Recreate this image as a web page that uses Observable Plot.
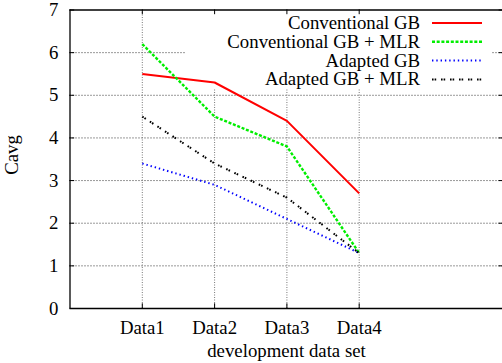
<!DOCTYPE html>
<html>
<head>
<meta charset="utf-8">
<script src="https://cdn.jsdelivr.net/npm/d3@7"></script>
<script src="https://cdn.jsdelivr.net/npm/@observablehq/plot@0.6"></script>
<style>
  html, body { margin: 0; padding: 0; background: white; overflow: hidden; }
</style>
</head>
<body>
<div id="chart"></div>
<script>
const categories = ["Data1", "Data2", "Data3", "Data4"];
const seriesNames = ["Conventional GB", "Conventional GB + MLR", "Adapted GB", "Adapted GB + MLR"];
const conventionalGB = [5.5, 5.3, 4.4, 2.7];
const conventionalGBMLR = [6.2, 4.5, 3.8, 1.3];
const adaptedGB = [3.4, 2.9, 2.1, 1.3];
const adaptedGBMLR = [4.5, 3.4, 2.6, 1.3];
const yTicks = [0, 1, 2, 3, 4, 5, 6, 7];
const yGrid = [1, 2, 3, 4, 5, 6];
const xLabel = "development data set";
const yLabel = "Cavg";

const styles = [
  {stroke: "#ff0000", strokeWidth: 2, dash: null},
  {stroke: "#00ee00", strokeWidth: 2.4, dash: "3,1.7"},
  {stroke: "#0000ff", strokeWidth: 2, dash: "1.4,2.9"},
  {stroke: "#000000", strokeWidth: 2, dash: "1.6,1,1.6,4.8"}
];
const seriesValues = [conventionalGB, conventionalGBMLR, adaptedGB, adaptedGBMLR];
const rows = seriesValues.map((vals, s) => categories.map((c, i) => ({series: seriesNames[s], pos: i + 1, value: vals[i]})));

const xPos = categories.map((c, i) => i + 1);
const font = "Liberation Serif";
const fs = 18.8;

// legend background (opaque key box)
function legendBox(index, scales, values, dimensions) {
  const g = d3.create("svg:g");
  g.append("rect").attr("x", 185).attr("y", 10).attr("width", 307).attr("height", 78).attr("fill", "white");
  return g.node();
}
function legend(index, scales, values, dimensions) {
  const g = d3.create("svg:g").attr("font-family", font).attr("font-size", fs);
  seriesNames.forEach((name, i) => {
    const cy = 23 + i * 18.8;
    g.append("text").attr("x", 420).attr("y", cy).attr("dy", "0.32em")
      .attr("text-anchor", "end").attr("fill", "black").text(name);
    g.append("line").attr("x1", 432).attr("x2", 482).attr("y1", cy).attr("y2", cy)
      .attr("stroke", styles[i].stroke).attr("stroke-width", styles[i].strokeWidth)
      .attr("stroke-dasharray", styles[i].dash);
  });
  return g.node();
}
function axisTitles(index, scales, values, dimensions) {
  const g = d3.create("svg:g").attr("font-family", font).attr("font-size", fs).attr("fill", "black");
  g.append("text").attr("transform", "translate(18,155) rotate(-90)").attr("text-anchor", "middle").text(yLabel);
  g.append("text").attr("x", 286.5).attr("y", 357).attr("text-anchor", "middle").text(xLabel);
  return g.node();
}

const tx = 4.7 / 72.3, ty = 4.7 / 42.7;

const chart = Plot.plot({
  width: 502,
  height: 363,
  marginLeft: 69.5,
  marginRight: 0,
  marginTop: 9.5,
  marginBottom: 55,
  style: {fontFamily: font, fontSize: fs + "px", background: "white", color: "black", overflow: "visible"},
  x: {type: "linear", domain: [0, 6], range: [69.5, 503.3]},
  y: {type: "linear", domain: [0, 7], range: [308, 9.5]},
  marks: [
    Plot.ruleY(yGrid, {x1: 0, x2: 6, stroke: "#333", strokeWidth: 1, strokeDasharray: "1,2"}),
    Plot.ruleX(xPos, {y1: 0, y2: 7, stroke: "#777", strokeWidth: 1, strokeDasharray: "1,1.5"}),
    legendBox,
    // frame
    Plot.ruleX([0], {y1: 0, y2: 7, stroke: "black", strokeWidth: 1.3}),
    Plot.ruleY([0, 7], {x1: 0, x2: 6, stroke: "black", strokeWidth: 1.5}),
    // ticks
    Plot.ruleY(yTicks, {x1: 0, x2: tx, stroke: "black"}),
    Plot.ruleY(yTicks, {x1: 6 - tx, x2: 6, stroke: "black"}),
    Plot.ruleX(xPos, {y1: 0, y2: ty, stroke: "black"}),
    Plot.ruleX(xPos, {y1: 7, y2: 7 - ty, stroke: "black"}),
    Plot.axisY({ticks: yTicks, tickSize: 0, tickPadding: 11.5, tickFormat: d => String(d), fontSize: fs, fontFamily: font, label: null}),
    Plot.axisX({ticks: xPos, tickSize: 0, tickPadding: 12, tickFormat: d => categories[d - 1], fontSize: fs, fontFamily: font, label: null}),
    ...rows.map((r, i) => Plot.line(r, {x: "pos", y: "value", stroke: styles[i].stroke, strokeWidth: styles[i].strokeWidth, strokeDasharray: styles[i].dash, strokeLinecap: "butt", strokeLinejoin: "miter"})),
    legend,
    axisTitles
  ]
});
document.getElementById("chart").appendChild(chart);
</script>
</body>
</html>
